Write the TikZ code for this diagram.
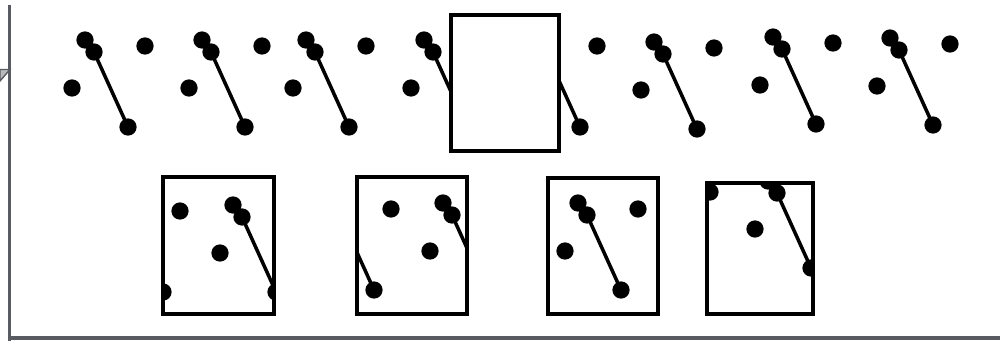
\documentclass[tikz,border=0pt]{standalone}
\definecolor{axisgray}{RGB}{88,92,98}
\tikzset{
  dot/.style={circle, fill=black, inner sep=0pt, minimum size=0.345cm},
  link/.style={line width=2pt},
  frame/.style={draw=black, line width=1.9pt},
  axisline/.style={draw=axisgray, line width=1.9pt},
}
\newcommand\motif[3]{%
  \begin{scope}[shift={(#2,#3)}]
    \node[dot] (#1a) at (0,0) {};
    \node[dot] (#1b) at (9,12) {};
    \node[dot] (#1c) at (-13,48) {};
    \node[dot] (#1d) at (43,87) {};
    \node[dot] (#1e) at (60,6) {};
    \draw[link] (#1b.center) -- (#1d.center);
  \end{scope}}
\begin{document}
\begin{tikzpicture}[x=0.02cm, y=-0.02cm]
\useasboundingbox (0,0) rectangle (1000,341);
% axes
\draw[axisline] (9.5,5) -- (9.5,341);
\draw[axisline] (9.5,338) -- (1000,338);
\filldraw[fill=gray!55, draw=axisgray, line width=0.8pt] (0,69.5) -- (10,69.5) -- (0,81) -- cycle;
% top row
\motif{ta}{85}{40}
\motif{tb}{202}{40}
\motif{tc}{306}{40}
\motif{td}{424}{40}
\motif{te}{537}{40}
\motif{tf}{654}{42}
\motif{tg}{773}{37}
\motif{th}{890}{38}
\draw[frame, fill=white] (451,15) rectangle (559,151);
% bottom windows
\begin{scope}
  \clip (163,177) rectangle (274,314);
  \motif{pa}{120}{205}
  \motif{pb}{233}{205}
\end{scope}
\draw[frame] (163,177) rectangle (274,314);
\begin{scope}
  \clip (357,177) rectangle (467,314);
  \motif{qa}{331}{203}
  \motif{qb}{443}{203}
\end{scope}
\draw[frame] (357,177) rectangle (467,314);
\begin{scope}
  \clip (548,178) rectangle (658,314);
  \motif{ra}{578}{203}
\end{scope}
\draw[frame] (548,178) rectangle (658,314);
\begin{scope}
  \clip (707,183) rectangle (813,314);
  \motif{sa}{650}{186}
  \motif{sb}{768}{181}
\end{scope}
\draw[frame] (707,183) rectangle (813,314);
\end{tikzpicture}
\end{document}
